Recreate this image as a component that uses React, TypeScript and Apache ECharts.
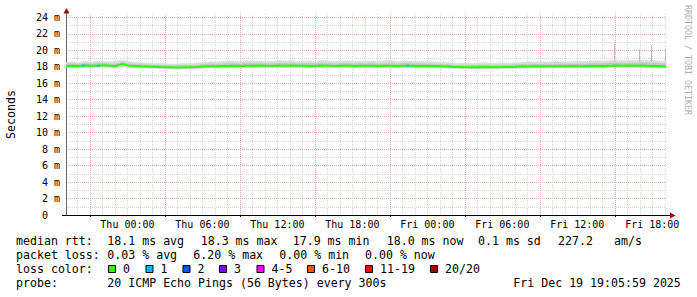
import React, { useEffect, useRef } from "react";
import * as echarts from "echarts";

// x values are hours relative to Thu 00:00 (local)
const X_MIN = -4.9164; // Wed 19:05:59
const X_MAX = 43.0997; // Fri 19:05:59
const SAMPLE_START = -4.9;
const SAMPLE_STEP = 0.5;

// median RTT in ms
const median = [
  18.10, 18.12, 18.08, 18.15, 18.11, 18.14, 18.18, 18.12, 18.10, 18.32, 18.13,
  18.10, 18.05, 18.02, 18.00, 17.97, 17.95, 17.93, 17.92, 17.94, 17.93, 17.97,
  18.02, 18.05, 18.06, 18.08, 18.10, 18.12, 18.09, 18.13, 18.11, 18.15, 18.12,
  18.10, 18.14, 18.12, 18.16, 18.11, 18.13, 18.10, 18.12, 18.15, 18.11, 18.09,
  18.12, 18.14, 18.10, 18.13, 18.11, 18.12, 18.09, 18.11, 18.13, 18.10, 18.12,
  18.11, 18.09, 18.12, 18.10, 18.08, 18.06, 18.02, 17.98, 17.96, 17.94, 17.93,
  17.95, 17.94, 17.96, 17.95, 17.97, 17.98, 18.00, 18.03, 18.02, 18.05, 18.04,
  18.06, 18.05, 18.07, 18.06, 18.08, 18.05, 18.07, 18.09, 18.10, 18.08, 18.12,
  18.14, 18.12, 18.15, 18.13, 18.16, 18.12, 18.10, 18.08, 18.04,
];

const smokeOuterHigh = [
  18.55, 18.60, 18.50, 18.65, 18.55, 18.70, 18.62, 18.58, 18.66, 18.75, 18.60,
  18.52, 18.48, 18.45, 18.40, 18.38, 18.35, 18.33, 18.36, 18.40, 18.38, 18.45,
  18.55, 18.60, 18.58, 18.62, 18.70, 18.65, 18.60, 18.72, 18.66, 18.70, 18.64,
  18.62, 18.75, 18.68, 18.72, 18.60, 18.66, 18.70, 18.64, 18.78, 18.65, 18.60,
  18.66, 18.74, 18.62, 18.70, 18.64, 18.68, 18.60, 18.72, 18.76, 18.62, 18.68,
  18.70, 18.62, 18.66, 18.60, 18.58, 18.55, 18.50, 18.42, 18.40, 18.45, 18.38,
  18.42, 18.50, 18.40, 18.44, 18.48, 18.45, 18.52, 18.55, 18.60, 18.58, 18.62,
  18.55, 18.60, 18.64, 18.58, 18.62, 18.66, 18.60, 18.68, 18.72, 18.70, 18.75,
  18.80, 18.72, 18.78, 18.70, 18.82, 18.74, 18.76, 18.70, 18.66,
];

const smokeOuterLow = [
  17.88, 17.90, 17.85, 17.92, 17.88, 17.90, 17.94, 17.89, 17.87, 17.95, 17.90,
  17.86, 17.82, 17.80, 17.78, 17.76, 17.74, 17.72, 17.71, 17.73, 17.72, 17.75,
  17.80, 17.84, 17.85, 17.86, 17.88, 17.90, 17.86, 17.90, 17.88, 17.92, 17.89,
  17.87, 17.91, 17.89, 17.93, 17.88, 17.90, 17.87, 17.89, 17.92, 17.88, 17.86,
  17.89, 17.91, 17.87, 17.90, 17.88, 17.89, 17.86, 17.88, 17.90, 17.87, 17.89,
  17.88, 17.86, 17.89, 17.87, 17.85, 17.83, 17.80, 17.76, 17.74, 17.72, 17.71,
  17.73, 17.72, 17.74, 17.73, 17.75, 17.76, 17.78, 17.81, 17.80, 17.83, 17.82,
  17.84, 17.83, 17.85, 17.84, 17.86, 17.83, 17.85, 17.87, 17.88, 17.86, 17.90,
  17.92, 17.90, 17.93, 17.91, 17.94, 17.90, 17.88, 17.86, 17.82,
];

const smokeInnerHigh = [
  18.30, 18.34, 18.28, 18.38, 18.32, 18.40, 18.38, 18.33, 18.36, 18.50, 18.35,
  18.30, 18.25, 18.22, 18.18, 18.16, 18.14, 18.12, 18.13, 18.16, 18.14, 18.20,
  18.28, 18.32, 18.30, 18.34, 18.40, 18.38, 18.34, 18.42, 18.37, 18.42, 18.36,
  18.34, 18.44, 18.38, 18.42, 18.34, 18.38, 18.40, 18.36, 18.46, 18.37, 18.33,
  18.38, 18.43, 18.35, 18.40, 18.36, 18.39, 18.33, 18.40, 18.44, 18.35, 18.39,
  18.40, 18.35, 18.38, 18.33, 18.30, 18.28, 18.24, 18.18, 18.16, 18.18, 18.14,
  18.17, 18.22, 18.16, 18.19, 18.21, 18.20, 18.25, 18.28, 18.30, 18.30, 18.32,
  18.28, 18.31, 18.34, 18.30, 18.33, 18.35, 18.32, 18.37, 18.40, 18.38, 18.42,
  18.46, 18.40, 18.45, 18.39, 18.48, 18.41, 18.42, 18.38, 18.34,
];

const smokeInnerLow = [
  18.02, 18.04, 18.00, 18.06, 18.03, 18.05, 18.09, 18.04, 18.02, 18.20, 18.05,
  18.01, 17.97, 17.94, 17.92, 17.89, 17.87, 17.85, 17.84, 17.86, 17.85, 17.89,
  17.94, 17.97, 17.98, 18.00, 18.02, 18.04, 18.01, 18.05, 18.03, 18.07, 18.04,
  18.02, 18.06, 18.04, 18.08, 18.03, 18.05, 18.02, 18.04, 18.07, 18.03, 18.01,
  18.04, 18.06, 18.02, 18.05, 18.03, 18.04, 18.01, 18.03, 18.05, 18.02, 18.04,
  18.03, 18.01, 18.04, 18.02, 18.00, 17.98, 17.94, 17.90, 17.88, 17.86, 17.85,
  17.87, 17.86, 17.88, 17.87, 17.89, 17.90, 17.92, 17.95, 17.94, 17.97, 17.96,
  17.98, 17.97, 17.99, 17.98, 18.00, 17.97, 17.99, 18.01, 18.02, 18.00, 18.04,
  18.06, 18.04, 18.07, 18.05, 18.08, 18.04, 18.02, 18.00, 17.96,
];

// occasional smoke spikes
const spikeHours = [38.9, 40.9, 41.9, 43.0];
const spikeBottoms = [18.6, 18.6, 18.6, 18.6];
const spikeTops = [20.8, 20.1, 20.6, 20.1];

// samples with 1/20 loss
const lossHours = [-3.56, -2.36, 22.44];
const lossValues = [18.13, 18.12, 18.12];

const xLabelHours = [0, 6, 12, 18, 24, 30, 36, 42];
const xMajorGridHours = [-3, 3, 9, 15, 21, 27, 33, 39];
const yMajorGrid = [2, 4, 6, 8, 10, 12, 14, 16, 18, 20, 22, 24];
const yMinorGrid = [1, 3, 5, 7, 9, 11, 13, 15, 17, 19, 21, 23];

const lossLabels = ["0", "1", "2", "3", "4-5", "6-10", "11-19", "20/20"];
const lossColors = ["#26ff00", "#00b8ff", "#0059ff", "#7e00ff", "#ff00ff", "#ff5500", "#ff0000", "#a10000"];

const rttLabel = "median rtt:";
const rttItems = ["18.1 ms avg", "18.3 ms max", "17.9 ms min", "18.0 ms now", "0.1 ms sd", "227.2", "am/s"];
const lossLabel = "packet loss:";
const lossItems = ["0.03 % avg", "6.20 % max", "0.00 % min", "0.00 % now"];
const probeText = "20 ICMP Echo Pings (56 Bytes) every 300s";
const dateText = "Fri Dec 19 19:05:59 2025";

const MONO = "DejaVu Sans Mono";

export default function App() {
  const ref = useRef<HTMLDivElement>(null);
  useEffect(() => {
    if (!ref.current) return;
    const chart = echarts.init(ref.current, undefined, { renderer: "svg" });
    const times = median.map((_, i) => +(SAMPLE_START + i * SAMPLE_STEP).toFixed(3));
    const pair = (arr: number[]) => arr.map((v, i) => [times[i], v]);
    // band segments: [t0, t1, low0, high0, low1, high1]
    const band = (lo: number[], hi: number[]) =>
      times.slice(0, -1).map((t, i) => [t, times[i + 1], lo[i], hi[i], lo[i + 1], hi[i + 1]]);

    const bandRender = (color: string) => (params: any, api: any) => {
      const t0 = api.value(0), t1 = api.value(1);
      const a = api.coord([t0, api.value(3)]);
      const b = api.coord([t1, api.value(5)]);
      const c = api.coord([t1, api.value(4)]);
      const d = api.coord([t0, api.value(2)]);
      return {
        type: "polygon",
        shape: { points: [a, b, c, d] },
        style: { fill: color, stroke: color, lineWidth: 0.6 },
      };
    };

    const minorX: number[] = [];
    for (let h = Math.ceil(X_MIN); h <= Math.floor(X_MAX); h++) {
      if (!xMajorGridHours.includes(h)) minorX.push(h);
    }

    const dayName = (h: number) => (h < 24 ? "Thu" : "Fri");
    const fmtX = (v: number) => {
      const hh = ((v % 24) + 24) % 24;
      return `${dayName(v)} ${String(Math.round(hh)).padStart(2, "0")}:00`;
    };

    const rttX = [107.3, 200.7, 292.7, 386.7, 478, 558, 614];
    const lossX = [107.3, 193.3, 279.3, 365];
    const boxX = [108, 145.5, 182.5, 219, 256.5, 307, 365, 430];

    const txt = (text: string, x: number, y: number, extra: any = {}) => ({
      type: "text",
      x,
      y,
      silent: true,
      style: {
        text,
        fontFamily: MONO,
        fontSize: 11.6,
        fill: "#000",
        align: "left",
        verticalAlign: "middle",
        ...extra,
      },
    });

    const graphics: any[] = [];
    graphics.push(txt(rttLabel, 16, 241));
    rttItems.forEach((t, i) => graphics.push(txt(t, rttX[i], 241)));
    graphics.push(txt(lossLabel, 16, 255));
    lossItems.forEach((t, i) => graphics.push(txt(t, lossX[i], 255)));
    graphics.push(txt("loss color:", 16, 269));
    lossLabels.forEach((t, i) => {
      graphics.push({
        type: "rect",
        silent: true,
        shape: { x: boxX[i] + 0.5, y: 265.5, width: 7, height: 7 },
        style: { fill: lossColors[i], stroke: "#000", lineWidth: 1 },
      });
      graphics.push(txt(t, boxX[i] + 15, 269));
    });
    graphics.push(txt("probe:", 16, 283));
    graphics.push(txt(probeText, 107.3, 283));
    graphics.push(txt(dateText, 513.3, 283));
    graphics.push({
      type: "text",
      x: 687.5,
      y: 5,
      rotation: -Math.PI / 2,
      silent: true,
      style: {
        text: "RRDTOOL / TOBI OETIKER",
        fontFamily: MONO,
        fontSize: 8.3,
        fill: "#b0b0b0",
        align: "left",
        verticalAlign: "middle",
      },
    });
    graphics.push({
      type: "line",
      silent: true,
      shape: { x1: 62, y1: 215.5, x2: 670, y2: 215.5 },
      style: { stroke: "#000", lineWidth: 1 },
      z: 10,
    });
    graphics.push({
      type: "polygon",
      silent: true,
      shape: { points: [[670, 212.5], [675.5, 215.5], [670, 218.5]] },
      style: { fill: "#a00000" },
      z: 10,
    });
    graphics.push({
      type: "polygon",
      silent: true,
      shape: { points: [[63.5, 13.5], [66.5, 8], [69.5, 13.5]] },
      style: { fill: "#a00000" },
      z: 10,
    });

    const markBase = {
      silent: true,
      symbol: ["none", "none"],
      symbolSize: 0,
      label: { show: false },
      emphasis: { disabled: true },
      animation: false,
      z: 0,
    };

    const option: any = {
      animation: false,
      backgroundColor: "#ffffff",
      grid: {
        left: 66,
        top: 14,
        width: 600,
        height: 201,
        containLabel: false,
        outerBoundsMode: "none",
      },
      xAxis: {
        type: "value",
        min: X_MIN,
        max: X_MAX,
        splitLine: { show: false },
        axisLine: { show: true, onZero: false, lineStyle: { color: "#000", width: 1 } },
        axisTick: {
          show: true,
          customValues: xMajorGridHours,
          length: 2,
          lineStyle: { color: "#000" },
        },
        axisLabel: {
          customValues: xLabelHours,
          formatter: (v: number) => fmtX(v),
          fontFamily: MONO,
          fontSize: 10,
          color: "#000",
          margin: 4,
          hideOverlap: false,
        },
      },
      yAxis: {
        type: "value",
        min: 0,
        max: 24.4,
        interval: 2,
        name: "Seconds",
        nameLocation: "middle",
        nameGap: 49,
        nameRotate: 90,
        nameTextStyle: { fontFamily: MONO, fontSize: 11.6, color: "#000" },
        splitLine: { show: false },
        axisLine: { show: true, onZero: false, lineStyle: { color: "#666", width: 1 } },
        axisTick: { show: false },
        axisLabel: {
          formatter: (v: number) => {
            if (v === 0) return "{z|0}";
            if (v % 2 === 0 && v <= 24) return `${v} m`;
            return "";
          },
          fontFamily: MONO,
          fontSize: 10,
          color: "#000",
          margin: 6,
          rich: { z: { fontFamily: MONO, fontSize: 10, color: "#000", padding: [0, 12, 0, 0] } },
        },
      },
      graphic: graphics,
      series: [
        {
          name: "gridMinor",
          type: "line",
          data: [],
          z: 0,
          silent: true,
          markLine: {
            ...markBase,
            lineStyle: { color: "#d6d6d6", type: [1, 1], width: 1 },
            data: [
              ...minorX.map((h) => ({ xAxis: h })),
              ...yMinorGrid.map((v) => ({ yAxis: v })),
            ],
          },
        },
        {
          name: "gridMajor",
          type: "line",
          data: [],
          z: 0,
          silent: true,
          markLine: {
            ...markBase,
            lineStyle: { color: "#eea8a8", type: [1, 1], width: 1 },
            data: [
              ...xMajorGridHours.map((h) => ({ xAxis: h })),
              ...yMajorGrid.map((v) => ({ yAxis: v })),
            ],
          },
        },
        {
          name: "smokeOuter",
          type: "custom",
          silent: true,
          z: 2,
          encode: { x: [0, 1], y: [2, 3, 4, 5] },
          data: band(smokeOuterLow, smokeOuterHigh),
          renderItem: bandRender("#dcdcdc"),
        },
        {
          name: "smokeInner",
          type: "custom",
          silent: true,
          z: 2,
          encode: { x: [0, 1], y: [2, 3, 4, 5] },
          data: band(smokeInnerLow, smokeInnerHigh),
          renderItem: bandRender("#c4c4c4"),
        },
        {
          name: "spikes",
          type: "custom",
          silent: true,
          z: 2,
          encode: { x: 0, y: [1, 2] },
          data: spikeHours.map((h, i) => [h, spikeBottoms[i], spikeTops[i]]),
          renderItem: (params: any, api: any) => {
            const p0 = api.coord([api.value(0), api.value(1)]);
            const p1 = api.coord([api.value(0), api.value(2)]);
            return {
              type: "line",
              shape: { x1: Math.round(p0[0]) + 0.5, y1: p0[1], x2: Math.round(p1[0]) + 0.5, y2: p1[1] },
              style: { stroke: "#bdbdbd", lineWidth: 1 },
            };
          },
        },
        {
          name: "median",
          type: "line",
          data: pair(median),
          symbol: "none",
          lineStyle: { color: lossColors[0], width: 2 },
          silent: true,
          z: 3,
        },
        {
          name: "loss1",
          type: "scatter",
          data: lossHours.map((h, i) => [h, lossValues[i]]),
          symbol: "rect",
          symbolSize: [3, 2],
          itemStyle: { color: lossColors[1] },
          silent: true,
          z: 4,
        },
      ],
    };
    chart.setOption(option);
    return () => chart.dispose();
  }, []);
  return (
    <div
      ref={ref}
      style={{ position: "fixed", left: 0, top: 0, width: 697, height: 297, background: "#fff" }}
    />
  );
}
